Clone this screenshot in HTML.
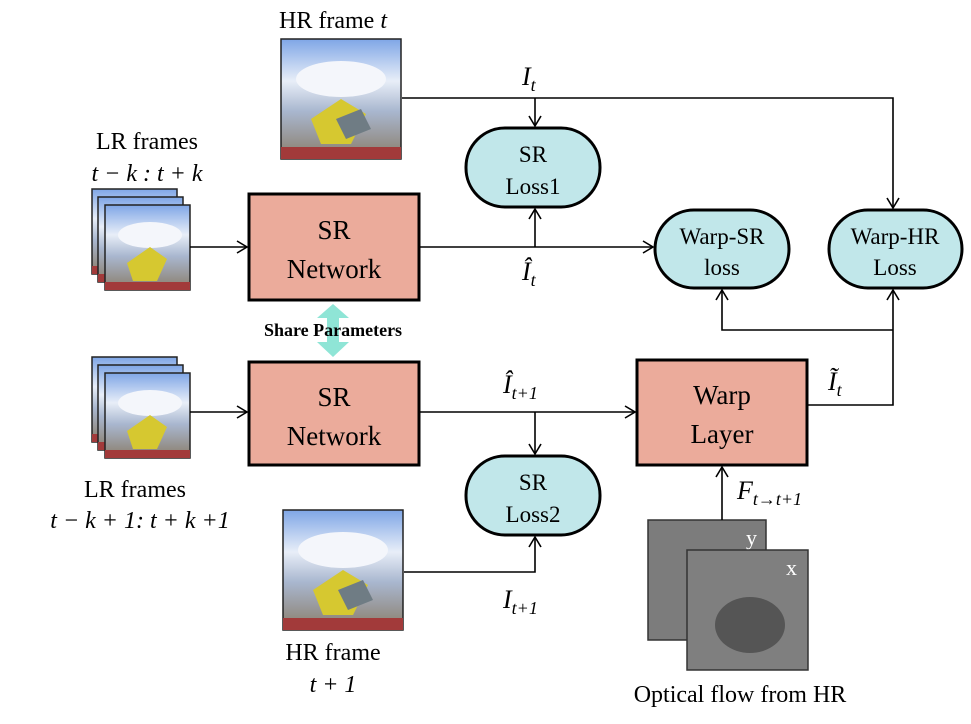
<!DOCTYPE html>
<html><head><meta charset="utf-8"><style>
body{margin:0;background:#fff}
svg{display:block}
text{font-family:"Liberation Serif",serif;fill:#000}
.i{font-style:italic}
</style></head><body>
<svg width="971" height="724" viewBox="0 0 971 724" xmlns="http://www.w3.org/2000/svg">
<defs>
<marker id="a" markerWidth="14" markerHeight="14" refX="11" refY="7" orient="auto" markerUnits="userSpaceOnUse">
<path d="M1,1 L11,7 L1,13" fill="none" stroke="#000" stroke-width="1.6"/></marker>
<linearGradient id="sky" x1="0" y1="0" x2="0" y2="1">
<stop offset="0" stop-color="#7fa6e6"/><stop offset="0.35" stop-color="#e8eef8"/><stop offset="0.6" stop-color="#a9b7cf"/><stop offset="1" stop-color="#8a7d6a"/></linearGradient>
<g id="img">
<rect width="120" height="120" fill="url(#sky)" stroke="#222" stroke-width="1.5"/>
<ellipse cx="60" cy="40" rx="45" ry="18" fill="#f4f6fb"/>
<path d="M30,80 L60,60 L85,75 L70,105 L40,105 Z" fill="#d6c830"/>
<path d="M55,80 L80,70 L90,90 L65,100Z" fill="#6f7c84"/>
<rect x="0" y="108" width="120" height="12" fill="#a23a3a"/>
</g>
<g id="lr">
<rect width="85" height="85" fill="url(#sky)" stroke="#222" stroke-width="1.5"/>
<ellipse cx="45" cy="30" rx="32" ry="13" fill="#f4f6fb"/>
<path d="M22,58 L45,42 L62,54 L52,76 L28,76Z" fill="#d6c830"/>
<rect x="0" y="77" width="85" height="8" fill="#a23a3a"/>
</g>
</defs>

<text x="333" y="28" font-size="24" text-anchor="middle">HR frame <tspan class="i">t</tspan></text>
<use href="#img" x="281" y="39"/>

<text x="147" y="149" font-size="24" text-anchor="middle">LR frames</text>
<text x="147" y="181" font-size="24" text-anchor="middle" class="i">t − k :  t + k</text>
<use href="#lr" x="92" y="189"/><use href="#lr" x="98" y="197"/><use href="#lr" x="105" y="205"/>

<rect x="249" y="194" width="170" height="106" fill="#ebab9b" stroke="#000" stroke-width="3"/>
<text x="334" y="239" font-size="27" text-anchor="middle" font-family="Liberation Sans">SR</text>
<text x="334" y="278" font-size="27" text-anchor="middle" font-family="Liberation Sans">Network</text>

<path d="M333,304 L349,318 L339,318 L339,342 L349,342 L333,357 L317,342 L327,342 L327,318 L317,318Z" fill="#8fe5d6"/>
<text x="333" y="336" font-size="18" font-weight="bold" text-anchor="middle">Share Parameters</text>

<use href="#lr" x="92" y="357"/><use href="#lr" x="98" y="365"/><use href="#lr" x="105" y="373"/>
<text x="135" y="497" font-size="24" text-anchor="middle">LR frames</text>
<text x="140" y="528" font-size="24" text-anchor="middle" class="i">t − k + 1:  t + k +1</text>

<rect x="249" y="362" width="170" height="103" fill="#ebab9b" stroke="#000" stroke-width="3"/>
<text x="334" y="406" font-size="27" text-anchor="middle" font-family="Liberation Sans">SR</text>
<text x="334" y="445" font-size="27" text-anchor="middle" font-family="Liberation Sans">Network</text>

<use href="#img" x="283" y="510"/>
<text x="333" y="660" font-size="24" text-anchor="middle">HR frame</text>
<text x="333" y="692" font-size="24" text-anchor="middle" class="i">t + 1</text>

<g fill="#c1e7ea" stroke="#000" stroke-width="3">
<rect x="466" y="128" width="134" height="79" rx="39"/>
<rect x="655" y="210" width="134" height="78" rx="39"/>
<rect x="829" y="210" width="133" height="78" rx="39"/>
<rect x="466" y="456" width="134" height="79" rx="39"/>
</g>
<g font-size="23" text-anchor="middle">
<text x="533" y="162">SR</text><text x="533" y="194">Loss1</text>
<text x="722" y="244">Warp-SR</text><text x="722" y="275">loss</text>
<text x="895" y="244">Warp-HR</text><text x="895" y="275">Loss</text>
<text x="533" y="490">SR</text><text x="533" y="522">Loss2</text>
</g>

<rect x="637" y="360" width="170" height="105" fill="#ebab9b" stroke="#000" stroke-width="3"/>
<text x="722" y="404" font-size="27" text-anchor="middle">Warp</text>
<text x="722" y="443" font-size="27" text-anchor="middle">Layer</text>

<rect x="648" y="520" width="118" height="120" fill="#7c7c7c" stroke="#333" stroke-width="1.5"/>
<text x="746" y="545" font-size="22" fill="#fff" style="fill:#fff">y</text>
<rect x="687" y="550" width="121" height="120" fill="#7f7f7f" stroke="#333" stroke-width="1.5"/>
<ellipse cx="750" cy="625" rx="35" ry="28" fill="#555"/>
<text x="786" y="575" font-size="22" style="fill:#fff">x</text>
<text x="740" y="702" font-size="24" text-anchor="middle">Optical flow from HR</text>

<g stroke="#000" stroke-width="1.6" fill="none">
<path d="M402,98 H893 V208" marker-end="url(#a)"/>
<path d="M535,98 V126" marker-end="url(#a)"/>
<path d="M190,247 H247" marker-end="url(#a)"/>
<path d="M419,247 H653" marker-end="url(#a)"/>
<path d="M535,247 V209" marker-end="url(#a)"/>
<path d="M190,412 H247" marker-end="url(#a)"/>
<path d="M419,412 H635" marker-end="url(#a)"/>
<path d="M535,412 V454" marker-end="url(#a)"/>
<path d="M404,572 H535 V537" marker-end="url(#a)"/>
<path d="M807,405 H893 V290" marker-end="url(#a)"/>
<path d="M893,330 H722 V290" marker-end="url(#a)"/>
<path d="M722,520 V467" marker-end="url(#a)"/>
</g>

<text x="522" y="85" font-size="26" class="i">I<tspan font-size="18" dy="6">t</tspan></text>
<text x="522" y="280" font-size="26" class="i">Î<tspan font-size="18" dy="6">t</tspan></text>
<text x="503" y="393" font-size="26" class="i">Î<tspan font-size="18" dy="6">t+1</tspan></text>
<text x="503" y="608" font-size="26" class="i">I<tspan font-size="18" dy="6">t+1</tspan></text>
<text x="828" y="390" font-size="26" class="i">Ĩ<tspan font-size="18" dy="6">t</tspan></text>
<text x="737" y="499" font-size="26" class="i">F<tspan font-size="18" dy="6">t→t+1</tspan></text>
</svg>
</body></html>
